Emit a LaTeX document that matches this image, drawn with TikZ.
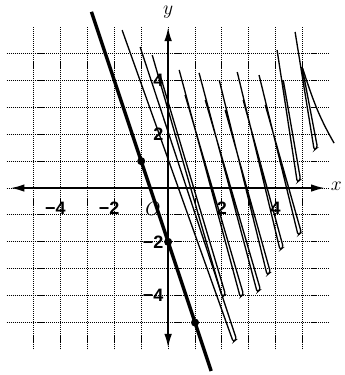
\documentclass[tikz,border=0pt]{standalone}
\usepackage{fontspec}
\newfontfamily\numfont{Liberation Sans}[BoldFont={Liberation Sans Bold}]
\usepackage{tikz}
\usetikzlibrary{
  arrows.meta, % for the axis tips
  calc}
\tikzstyle{gridline} = [densely dotted, line width=1.1pt]
\tikzstyle{axis} = [line width=2.2pt]
\tikzstyle{bound} = [line width=3.6pt]
\tikzstyle{hatch} = [line width=1.4pt, rounded corners=2.5pt]
\tikzstyle{pt} = [circle, fill, inner sep=0pt, minimum size=8.5pt]
\tikzstyle{num} = [inner sep=0pt, font=\numfont\bfseries\fontsize{19}{19}\selectfont]
\tikzstyle{axlabel} = [inner sep=0pt, font=\fontsize{21}{21}\selectfont]

\begin{document}
\begin{tikzpicture}[ >={Latex[length=15pt,width=8pt]} ]
\useasboundingbox (-6.25,-6.95) rectangle (6.54,6.99);

% grid
\foreach \i in {-5,...,5} {
  \draw[gridline] (\i,-6) -- (\i,6);
  \draw[gridline] (-6,\i) -- (6,\i);
}

% shading, scribbled
\foreach \ax/\ay/\bx/\by/\cx/\cy in {
  -1.71/5.87/2.42/-5.72/-1.04/5.24,
  -0.59/4.94/2.01/-4.05/-0.30/4.20,
  0.41/4.39/2.68/-4.05/0.63/3.46,
  1.15/4.28/3.31/-3.87/1.38/3.27,
  1.90/4.01/3.68/-3.23/2.12/2.90,
  2.57/4.31/4.16/-2.30/2.79/3.27,
  3.38/4.20/4.83/-1.75/3.61/3.09,
  4.05/5.13/4.80/0.22/4.28/4.01,
  4.72/5.80/5.43/1.41/4.98/4.50}
  \draw[hatch] (\ax,\ay) -- (\bx,\by) -- ++(0.12,0.1) -- (\cx,\cy);
\coordinate (tailA) at (5.0,4.45);
\coordinate (tailB) at (6.17,1.67);
\draw[hatch] (tailA) to[out=-72,in=120] (tailB);

% axes
\coordinate (xl) at (-5.87,0);
\coordinate (xr) at (5.84,0);
\coordinate (yb) at (0,-5.95);
\coordinate (yt) at (0,5.99);
\draw[axis,<->] (xl) -- (xr);
\draw[axis,<->] (yb) -- (yt);
\node[axlabel] (xlab) at (6.25,0.05) {$x$};
\node[axlabel] (ylab) at (0,6.52) {$y$};
\node[axlabel] (orig) at (-0.56,-0.78) {$O$};

% boundary line
\coordinate (lt) at (-2.85,6.55);
\coordinate (lb) at (1.6,-6.8);
\draw[bound] (lt) -- (lb);
\node[pt] (pa) at (-1,1) {};
\node[pt] (pb) at (0,-2) {};
\node[pt] (pc) at (1,-5) {};

% tick labels
\foreach \xv/\lab in {-4/{\llap{−}4}, -2/{\llap{−}2}, 2/2, 4/4}
  \node[num] at (\xv,-0.74) {\lab};
\foreach \yv/\lab in {4/4, 2/2, -2/−2, -4/−4}
  \node[num, anchor=east] at (-0.17,\yv) {\lab};

\end{tikzpicture}
\end{document}
